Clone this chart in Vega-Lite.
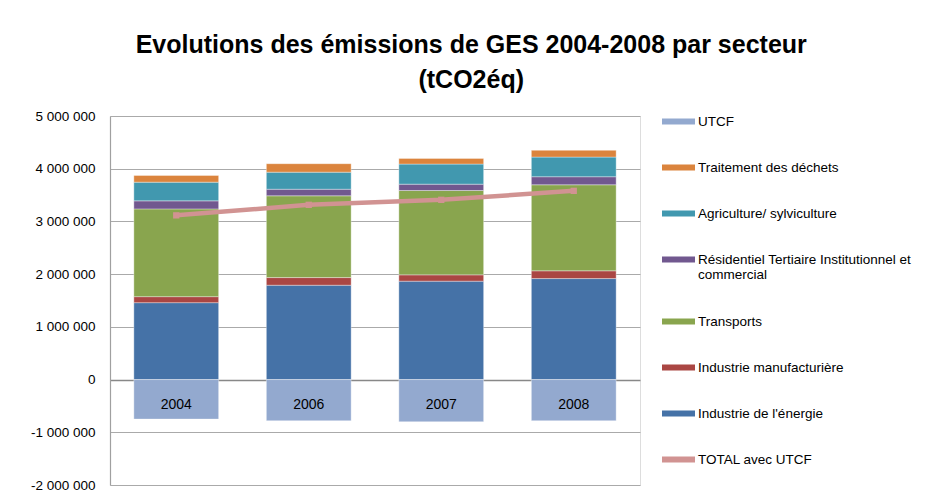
{
  "$schema": "https://vega.github.io/schema/vega-lite/v6.json",
  "width": 530,
  "height": 369,
  "autosize": {"type": "none"},
  "padding": {"left": 110, "top": 116, "right": 303, "bottom": 9},
  "background": "white",
  "title": {
    "text": ["Evolutions des émissions de GES 2004-2008 par secteur", "(tCO2éq)"],
    "font": "Liberation Sans",
    "fontSize": 25,
    "fontWeight": "bold",
    "lineHeight": 35,
    "color": "#000000",
    "anchor": "middle",
    "frame": "bounds",
    "offset": 12
  },
  "datasets": {
    "secteurs": [
      {"annee": "2004", "secteur": "Industrie de l'énergie", "ordre": 1, "valeur": 1459000},
      {"annee": "2004", "secteur": "Industrie manufacturière", "ordre": 2, "valeur": 114000},
      {"annee": "2004", "secteur": "Transports", "ordre": 3, "valeur": 1665000},
      {"annee": "2004", "secteur": "Résidentiel Tertiaire Institutionnel et commercial", "ordre": 4, "valeur": 152000},
      {"annee": "2004", "secteur": "Agriculture/ sylviculture", "ordre": 5, "valeur": 355000},
      {"annee": "2004", "secteur": "Traitement des déchets", "ordre": 6, "valeur": 127000},
      {"annee": "2004", "secteur": "UTCF", "ordre": 0, "valeur": -750000},
      {"annee": "2006", "secteur": "Industrie de l'énergie", "ordre": 1, "valeur": 1790000},
      {"annee": "2006", "secteur": "Industrie manufacturière", "ordre": 2, "valeur": 145000},
      {"annee": "2006", "secteur": "Transports", "ordre": 3, "valeur": 1551000},
      {"annee": "2006", "secteur": "Résidentiel Tertiaire Institutionnel et commercial", "ordre": 4, "valeur": 125000},
      {"annee": "2006", "secteur": "Agriculture/ sylviculture", "ordre": 5, "valeur": 324000},
      {"annee": "2006", "secteur": "Traitement des déchets", "ordre": 6, "valeur": 160000},
      {"annee": "2006", "secteur": "UTCF", "ordre": 0, "valeur": -780000},
      {"annee": "2007", "secteur": "Industrie de l'énergie", "ordre": 1, "valeur": 1867000},
      {"annee": "2007", "secteur": "Industrie manufacturière", "ordre": 2, "valeur": 120000},
      {"annee": "2007", "secteur": "Transports", "ordre": 3, "valeur": 1600000},
      {"annee": "2007", "secteur": "Résidentiel Tertiaire Institutionnel et commercial", "ordre": 4, "valeur": 120000},
      {"annee": "2007", "secteur": "Agriculture/ sylviculture", "ordre": 5, "valeur": 381000},
      {"annee": "2007", "secteur": "Traitement des déchets", "ordre": 6, "valeur": 108000},
      {"annee": "2007", "secteur": "UTCF", "ordre": 0, "valeur": -800000},
      {"annee": "2008", "secteur": "Industrie de l'énergie", "ordre": 1, "valeur": 1916000},
      {"annee": "2008", "secteur": "Industrie manufacturière", "ordre": 2, "valeur": 147000},
      {"annee": "2008", "secteur": "Transports", "ordre": 3, "valeur": 1632000},
      {"annee": "2008", "secteur": "Résidentiel Tertiaire Institutionnel et commercial", "ordre": 4, "valeur": 153000},
      {"annee": "2008", "secteur": "Agriculture/ sylviculture", "ordre": 5, "valeur": 373000},
      {"annee": "2008", "secteur": "Traitement des déchets", "ordre": 6, "valeur": 128000},
      {"annee": "2008", "secteur": "UTCF", "ordre": 0, "valeur": -780000}
    ],
    "total": [
      {"annee": "2004", "total": 3115000},
      {"annee": "2006", "total": 3315000},
      {"annee": "2007", "total": 3410000},
      {"annee": "2008", "total": 3580000}
    ]
  },
  "encoding": {
    "x": {
      "field": "annee",
      "type": "nominal",
      "sort": ["2004", "2006", "2007", "2008"],
      "scale": {"paddingInner": 0.36, "paddingOuter": 0.18},
      "axis": {
        "title": null,
        "orient": "bottom",
        "offset": -107,
        "domain": false,
        "ticks": false,
        "labelAngle": 0,
        "labelPadding": 19,
        "labelFont": "Liberation Sans",
        "labelFontSize": 14,
        "labelColor": "#000000",
        "zindex": 2
      }
    }
  },
  "layer": [
    {
      "data": {"name": "secteurs"},
      "mark": {"type": "bar", "stroke": "#ffffff", "strokeWidth": 0.6, "strokeOpacity": 0.6},
      "encoding": {
        "y": {
          "field": "valeur",
          "type": "quantitative",
          "stack": "zero",
          "scale": {"domain": [-2000000, 5000000], "nice": false},
          "axis": {
            "title": null,
            "values": [-2000000, -1000000, 0, 1000000, 2000000, 3000000, 4000000, 5000000],
            "labelExpr": "replace(replace(format(datum.value, ','), regexp(',', 'g'), ' '), '\u2212', '-')",
            "labelFont": "Liberation Sans",
            "labelFontSize": 13.5,
            "labelColor": "#000000",
            "labelPadding": 15,
            "ticks": false,
            "domain": true,
            "domainColor": "#A0A0A0",
            "domainWidth": 1.2,
            "grid": true,
            "gridColor": {"condition": {"test": "datum.value === 0", "value": "#888888"}, "value": "#AAAAAA"},
            "gridWidth": {"condition": {"test": "datum.value === 0", "value": 1.6}, "value": 1.1}
          }
        },
        "color": {
          "field": "secteur",
          "type": "nominal",
          "scale": {
            "domain": ["UTCF", "Traitement des déchets", "Agriculture/ sylviculture", "Résidentiel Tertiaire Institutionnel et commercial", "Transports", "Industrie manufacturière", "Industrie de l'énergie", "TOTAL avec UTCF"],
            "range": ["#93A9CF", "#DB843D", "#4198AF", "#71588F", "#89A54E", "#AA4643", "#4572A7", "#D19392"]
          },
          "legend": {
            "title": null,
            "orient": "none",
            "legendX": 552,
            "legendY": -11,
            "symbolType": "M-1,-0.18H1V0.18H-1Z",
            "symbolSize": 1089,
            "symbolStrokeWidth": 0,
            "symbolOpacity": 1,
            "labelFont": "Liberation Sans",
            "labelFontSize": 13.5,
            "labelColor": "#000000",
            "labelLimit": 300,
            "labelOffset": 3,
            "rowPadding": 23,
            "labelExpr": "datum.label == 'Résidentiel Tertiaire Institutionnel et commercial' ? ['Résidentiel Tertiaire Institutionnel et', 'commercial'] : datum.label"
          }
        },
        "order": {"field": "ordre", "type": "quantitative"}
      }
    },
    {
      "data": {"name": "total"},
      "mark": {"type": "line", "strokeWidth": 4.5, "point": {"shape": "square", "size": 40, "filled": true}},
      "encoding": {
        "y": {"field": "total", "type": "quantitative"},
        "color": {"datum": "TOTAL avec UTCF"}
      }
    }
  ]
}
